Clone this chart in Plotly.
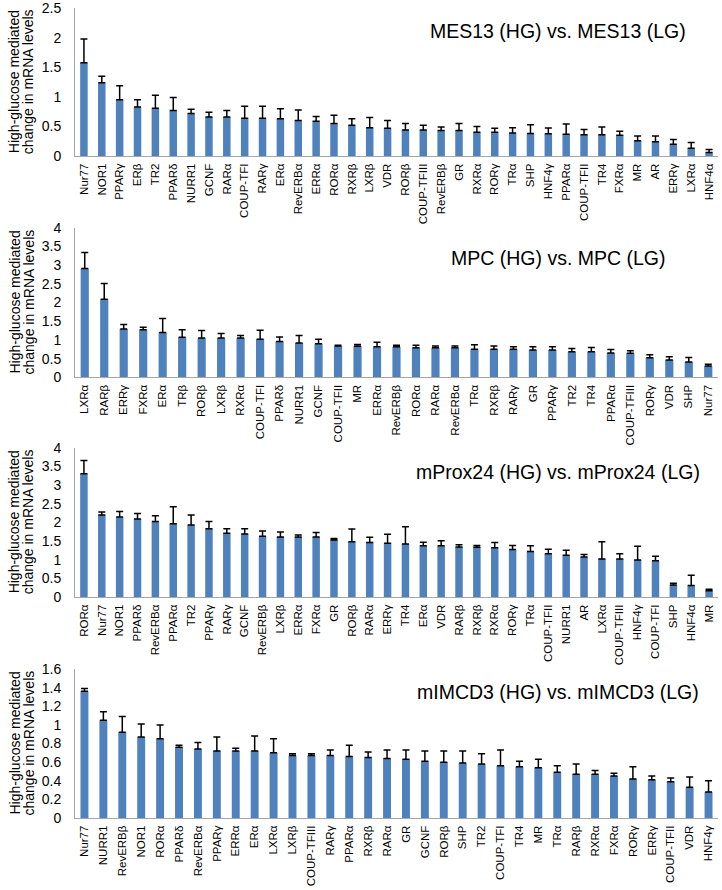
import plotly.graph_objects as go

# ---- Panel 1: MES13 ----
mes13_genes = ["Nur77", "NOR1", "PPARγ", "ERβ", "TR2", "PPARδ", "NURR1", "GCNF", "RARα", "COUP-TFI",
               "RARγ", "ERα", "RevERBα", "ERRα", "RORα", "RXRβ", "LXRβ", "VDR", "RORβ", "COUP-TFIII",
               "RevERBβ", "GR", "RXRα", "RORγ", "TRα", "SHP", "HNF4γ", "PPARα", "COUP-TFII", "TR4",
               "FXRα", "MR", "AR", "ERRγ", "LXRα", "HNF4α"]
mes13_values = [1.58, 1.24, 0.95, 0.83, 0.81, 0.77, 0.72, 0.66, 0.66, 0.64,
                0.64, 0.63, 0.60, 0.59, 0.55, 0.52, 0.48, 0.47, 0.44, 0.44,
                0.43, 0.43, 0.40, 0.40, 0.39, 0.38, 0.375, 0.37, 0.36, 0.36,
                0.35, 0.26, 0.24, 0.20, 0.13, 0.06]
mes13_errors = [0.40, 0.11, 0.24, 0.12, 0.22, 0.22, 0.07, 0.08, 0.11, 0.20,
                0.20, 0.17, 0.18, 0.08, 0.14, 0.11, 0.17, 0.13, 0.11, 0.08,
                0.06, 0.12, 0.10, 0.07, 0.09, 0.15, 0.10, 0.17, 0.09, 0.13,
                0.07, 0.08, 0.10, 0.08, 0.10, 0.05]

# ---- Panel 2: MPC ----
mpc_genes = ["LXRα", "RARβ", "ERRγ", "FXRα", "ERα", "TRβ", "RORβ", "LXRβ", "RXRα", "COUP-TFI",
             "PPARδ", "NURR1", "GCNF", "COUP-TFII", "MR", "ERRα", "RevERBβ", "RORα", "RARα", "RevERBα",
             "TRα", "RXRβ", "RARγ", "GR", "PPARγ", "TR2", "TR4", "PPARα", "COUP-TFIII", "RORγ",
             "VDR", "SHP", "Nur77"]
mpc_values = [2.91, 2.09, 1.29, 1.27, 1.20, 1.07, 1.05, 1.05, 1.05, 1.02,
              0.96, 0.92, 0.90, 0.84, 0.83, 0.82, 0.82, 0.79, 0.79, 0.79,
              0.75, 0.75, 0.75, 0.73, 0.73, 0.68, 0.68, 0.65, 0.64, 0.52,
              0.46, 0.41, 0.30]
mpc_errors = [0.43, 0.42, 0.12, 0.07, 0.37, 0.20, 0.20, 0.12, 0.07, 0.24,
              0.12, 0.20, 0.12, 0.02, 0.05, 0.12, 0.04, 0.07, 0.05, 0.05,
              0.12, 0.09, 0.07, 0.09, 0.09, 0.09, 0.12, 0.09, 0.07, 0.08,
              0.09, 0.12, 0.05]

# ---- Panel 3: mProx24 ----
mprox_genes = ["RORα", "Nur77", "NOR1", "PPARδ", "RevERBα", "PPARα", "TR2", "PPARγ", "RARγ", "GCNF",
               "RevERBβ", "LXRβ", "ERRα", "FXRα", "GR", "RORβ", "RARα", "ERRγ", "TR4", "ERα",
               "VDR", "RARβ", "RXRβ", "RXRα", "RORγ", "TRα", "COUP-TFII", "NURR1", "AR", "LXRα",
               "COUP-TFIII", "HNF4γ", "COUP-TFI", "SHP", "HNF4α", "MR"]
mprox_values = [3.30, 2.20, 2.14, 2.09, 2.02, 1.96, 1.93, 1.83, 1.71, 1.69,
                1.63, 1.61, 1.61, 1.61, 1.53, 1.48, 1.46, 1.44, 1.42, 1.37,
                1.37, 1.34, 1.33, 1.32, 1.27, 1.22, 1.16, 1.12, 1.07, 1.02,
                1.02, 0.99, 0.97, 0.32, 0.31, 0.17]
mprox_errors = [0.36, 0.08, 0.15, 0.15, 0.16, 0.46, 0.27, 0.19, 0.12, 0.14,
                0.14, 0.13, 0.05, 0.12, 0.04, 0.34, 0.14, 0.24, 0.46, 0.10,
                0.14, 0.06, 0.05, 0.14, 0.11, 0.15, 0.12, 0.13, 0.07, 0.46,
                0.14, 0.37, 0.12, 0.05, 0.27, 0.04]

# ---- Panel 4: mIMCD3 ----
mimcd_genes = ["Nur77", "NURR1", "RevERBβ", "NOR1", "RORα", "PPARδ", "RevERBα", "PPARγ", "ERRα", "ERα",
               "LXRα", "LXRβ", "COUP-TFIII", "RARγ", "PPARα", "RXRβ", "RARα", "GR", "GCNF", "RORβ",
               "SHP", "TR2", "COUP-TFI", "TR4", "MR", "TRα", "RARβ", "RXRα", "FXRα", "RORγ",
               "ERRγ", "COUP-TFII", "VDR", "HNF4γ"]
mimcd_values = [1.36, 1.05, 0.92, 0.87, 0.85, 0.76, 0.74, 0.72, 0.72, 0.72,
                0.70, 0.67, 0.67, 0.67, 0.66, 0.65, 0.64, 0.63, 0.61, 0.60,
                0.59, 0.58, 0.56, 0.55, 0.54, 0.49, 0.47, 0.47, 0.45, 0.42,
                0.41, 0.39, 0.33, 0.28]
mimcd_errors = [0.03, 0.09, 0.17, 0.14, 0.15, 0.02, 0.07, 0.15, 0.03, 0.16,
                0.15, 0.02, 0.02, 0.06, 0.12, 0.06, 0.09, 0.10, 0.11, 0.12,
                0.13, 0.11, 0.17, 0.06, 0.09, 0.07, 0.11, 0.04, 0.03, 0.13,
                0.04, 0.04, 0.11, 0.12]

y_title_lines = ["High-glucose mediated", "change in mRNA levels"]

panels = [
    (mes13_genes, mes13_values, mes13_errors, "MES13 (HG) vs. MES13 (LG)", 2.5, 0.5, (8.3, 156.0), 31),
    (mpc_genes, mpc_values, mpc_errors, "MPC (HG) vs. MPC (LG)", 4, 0.5, (227.7, 377.3), 258),
    (mprox_genes, mprox_values, mprox_errors, "mProx24 (HG) vs. mProx24 (LG)", 4, 0.5, (447.7, 597.0), 472),
    (mimcd_genes, mimcd_values, mimcd_errors, "mIMCD3 (HG) vs. mIMCD3 (LG)", 1.6, 0.2, (669.0, 818.0), 692),
]

W, H = 722, 890
FONT = "Liberation Sans, Arial, sans-serif"
BAR = "#4F81BD"

fig = go.Figure()
layout = dict(
    width=W, height=H, margin=dict(l=0, r=0, t=0, b=0, autoexpand=False),
    paper_bgcolor="white", plot_bgcolor="white", showlegend=False,
    font=dict(family=FONT, color="black"),
    bargap=0.58,
)
annotations = []
x_dom = [75 / W, 718 / W]
for i, (genes, vals, errs, title, ymax, dtick, (ytop, ybot), ty) in enumerate(panels):
    n = i + 1
    xa = "x" if n == 1 else f"x{n}"
    ya = "y" if n == 1 else f"y{n}"
    fig.add_trace(go.Bar(
        x=genes, y=vals, xaxis=xa, yaxis=ya, marker=dict(color=BAR, line=dict(width=0)),
        error_y=dict(type="data", symmetric=False, array=errs, arrayminus=[0] * len(errs),
                     color="black", thickness=1.5, width=3.5),
    ))
    dom = [1 - ybot / H, 1 - ytop / H]
    xkey = "xaxis" if n == 1 else f"xaxis{n}"
    ykey = "yaxis" if n == 1 else f"yaxis{n}"
    layout[xkey] = dict(domain=x_dom, anchor=ya, type="category", tickangle=-90,
                        tickfont=dict(size=11.5, family=FONT, color="black"),
                        showline=True, linecolor="#A6A6A6", linewidth=1, showgrid=False,
                        ticks="", ticklabelstandoff=2,
                        range=[-0.5, len(genes) - 0.5], fixedrange=True, automargin=False)
    layout[ykey] = dict(domain=dom, anchor=xa, range=[0, ymax], dtick=dtick, tick0=0,
                        tickfont=dict(size=14, family=FONT, color="black"),
                        showline=True, linecolor="#A6A6A6", linewidth=1, showgrid=False,
                        zeroline=False, ticks="", ticklen=0, ticklabelstandoff=10,
                        fixedrange=True, automargin=False)
    annotations.append(dict(text=title, xref="paper", yref="paper", x=558 / W, y=1 - ty / H,
                            xanchor="center", yanchor="middle", showarrow=False,
                            font=dict(size=19.5, family=FONT, color="black")))
    ymid = 1 - ((ytop + ybot) / 2) / H
    for line, lx in zip(y_title_lines, [14, 28]):
        annotations.append(dict(text=line, xref="paper", yref="paper", x=lx / W, y=ymid,
                                xanchor="center", yanchor="middle", textangle=-90, showarrow=False,
                                font=dict(size=14, family=FONT, color="black")))
layout["annotations"] = annotations
fig.update_layout(**layout)
fig.write_html("out.html", config={"displayModeBar": False},
               post_script="document.body.style.margin='0';document.body.style.overflow='hidden';")
